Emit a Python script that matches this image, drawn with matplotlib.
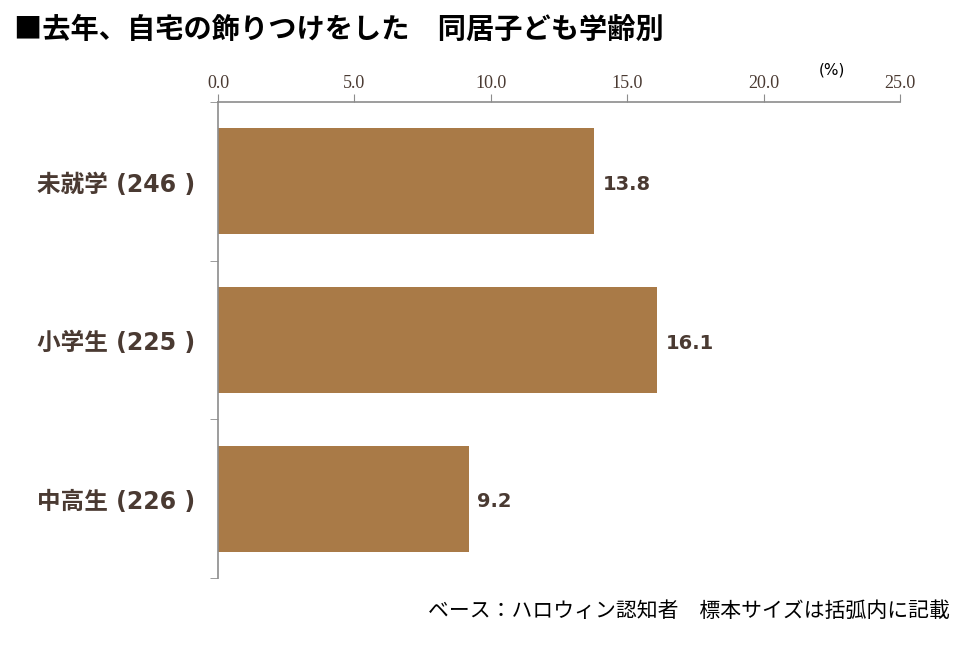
import matplotlib
matplotlib.use('Agg')
import matplotlib.pyplot as plt
import numpy as np

plt.rcParams['font.family'] = ['Noto Sans CJK JP', 'DejaVu Sans']

# データ
categories = ['未就学 (246 )', '小学生 (225 )', '中高生 (226 )']
values = [13.8, 16.1, 9.2]
xticks = [0, 5, 10, 15, 20, 25]

bar_color = '#A97A47'
text_color = '#4A3A32'
axis_color = '#8C8C8C'
mixed = ['DejaVu Sans', 'Noto Sans CJK JP']

fig = plt.figure(figsize=(9.6, 6.51), dpi=100)
ax = fig.add_axes([218/960, 1 - 578/651, 682/960, 476/651])

y = np.arange(len(categories))
ax.barh(y, values, height=0.67, color=bar_color)

ax.set_xlim(0, 25)
ax.set_ylim(len(categories) - 0.5, -0.5)

# 上側の目盛り
ax.xaxis.tick_top()
ax.set_xticks(xticks)
ax.set_xticklabels([f'{v:.1f}' for v in xticks], family='Liberation Serif',
                   fontsize=13, color=text_color)
ax.tick_params(axis='x', direction='out', length=6, color=axis_color, pad=1)

# 左側: カテゴリの境目に目盛り
ax.set_yticks(np.arange(-0.5, len(categories)), minor=True)
ax.set_yticks([])
ax.tick_params(axis='y', which='minor', direction='out', length=6, color=axis_color)

for s in ['right', 'bottom']:
    ax.spines[s].set_visible(False)
for s in ['top', 'left']:
    ax.spines[s].set_color(axis_color)
    ax.spines[s].set_linewidth(1.2)

# カテゴリラベル
for yi, lab in zip(y, categories):
    ax.text(-0.85, yi + 0.02, lab, ha='right', va='center', fontsize=17,
            fontweight='bold', color=text_color, family=mixed, clip_on=False)

# 値ラベル
for yi, v in zip(y, values):
    ax.text(v + 0.3, yi + 0.02, f'{v:.1f}', ha='left', va='center', fontsize=14,
            fontweight='bold', color=text_color, family=mixed)

fig.text(832/960, 1 - 70/651, '(%)', ha='center', va='center', fontsize=11,
         color='black', family='DejaVu Sans')

fig.text(14/960, 1 - 30/651, '■去年、自宅の飾りつけをした　同居子ども学齢別',
         ha='left', va='center', fontsize=20.3, fontweight='bold', color='black')

fig.text(950/960, 1 - 611/651, 'ベース：ハロウィン認知者　標本サイズは括弧内に記載',
         ha='right', va='center', fontsize=15, color='black')

fig.savefig('out.png', dpi=100)
